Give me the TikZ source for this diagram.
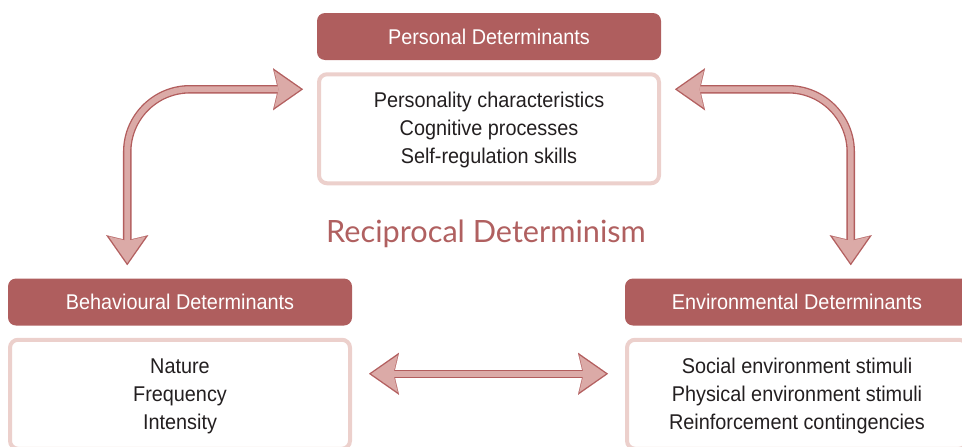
\documentclass[tikz,border=0pt]{standalone}
\definecolor{headred}{RGB}{175,94,94}
\definecolor{bodyline}{RGB}{236,208,204}
\definecolor{arrowfill}{RGB}{219,170,167}
\definecolor{arrowline}{RGB}{178,93,93}
\definecolor{titlered}{RGB}{176,96,96}
\definecolor{inktext}{RGB}{35,31,32}
\usepackage{fontspec}
\newfontfamily\boxfont[FakeStretch=0.93]{Liberation Sans}
\newfontfamily\titlefont{Lato}
\usepackage{tikz}
\usetikzlibrary{arrows.meta, positioning, calc}

\tikzset{
  outertip/.tip={Stealth[length=22.5pt, width=31.5pt, inset=3.8pt, line width=0.01pt]},
  innertip/.tip={Stealth[length=19.8pt, width=27.6pt, inset=3.3pt, line width=0.01pt]}
}

\begin{document}
\begin{tikzpicture}[x=0.75pt, y=-0.75pt,
    head/.style={fill=headred, text=white, rounded corners=6pt, minimum width=258pt,
      minimum height=35.25pt, inner sep=0pt, font=\boxfont\fontsize{16}{21}\selectfont},
    body/.style={draw=bodyline, line width=3pt, fill=white, rounded corners=6pt,
      minimum width=255pt, minimum height=81.75pt, inner sep=0pt, align=center,
      text=inktext, font=\boxfont\fontsize{16}{21}\selectfont},
    recip/.style={draw=arrowline, line width=6.4pt, rounded corners=47pt,
      arrows={outertip-outertip},
      postaction={draw=arrowfill, line width=4.4pt, shorten <=1.74pt, shorten >=1.74pt,
        arrows={innertip-innertip}}}]
  \clip (0,0) rectangle (962,446);

  % the three determinants
  \node[head] (phead) at (489,36.5) {Personal Determinants};
  \node[body, below=9pt of phead] (pbody) {\rule{0pt}{14pt}Personality characteristics\\Cognitive processes\\Self-regulation skills};

  \node[head] (bhead) at (180,302) {Behavioural Determinants};
  \node[body, below=9pt of bhead] (bbody) {\rule{0pt}{14pt}Nature\\Frequency\\Intensity};

  \node[head] (ehead) at (797,302) {Environmental Determinants};
  \node[body, below=9pt of ehead] (ebody) {\rule{0pt}{14pt}Social environment stimuli\\Physical environment stimuli\\Reinforcement contingencies};

  \node[text=titlered, font=\titlefont\fontsize{23}{27}\selectfont] (title) at (486,234) {Reciprocal Determinism};

  % arrow ends
  \coordinate (pl) at ($(pbody.north west)+(-14,17)$);
  \coordinate (bl) at ($(bhead.north west)+(119.5,-13)$);
  \coordinate (pr) at ($(pbody.north east)+(14,17)$);
  \coordinate (er) at ($(ehead.north west)+(226,-13)$);
  \coordinate (bb) at ($(bbody.north east)+(17,36)$);
  \coordinate (eb) at ($(ebody.north west)+(-17,36)$);

  \draw[recip] (pl) -| (bl);
  \draw[recip] (pr) -| (er);
  \draw[recip] (bb) -- (eb);
\end{tikzpicture}
\end{document}
